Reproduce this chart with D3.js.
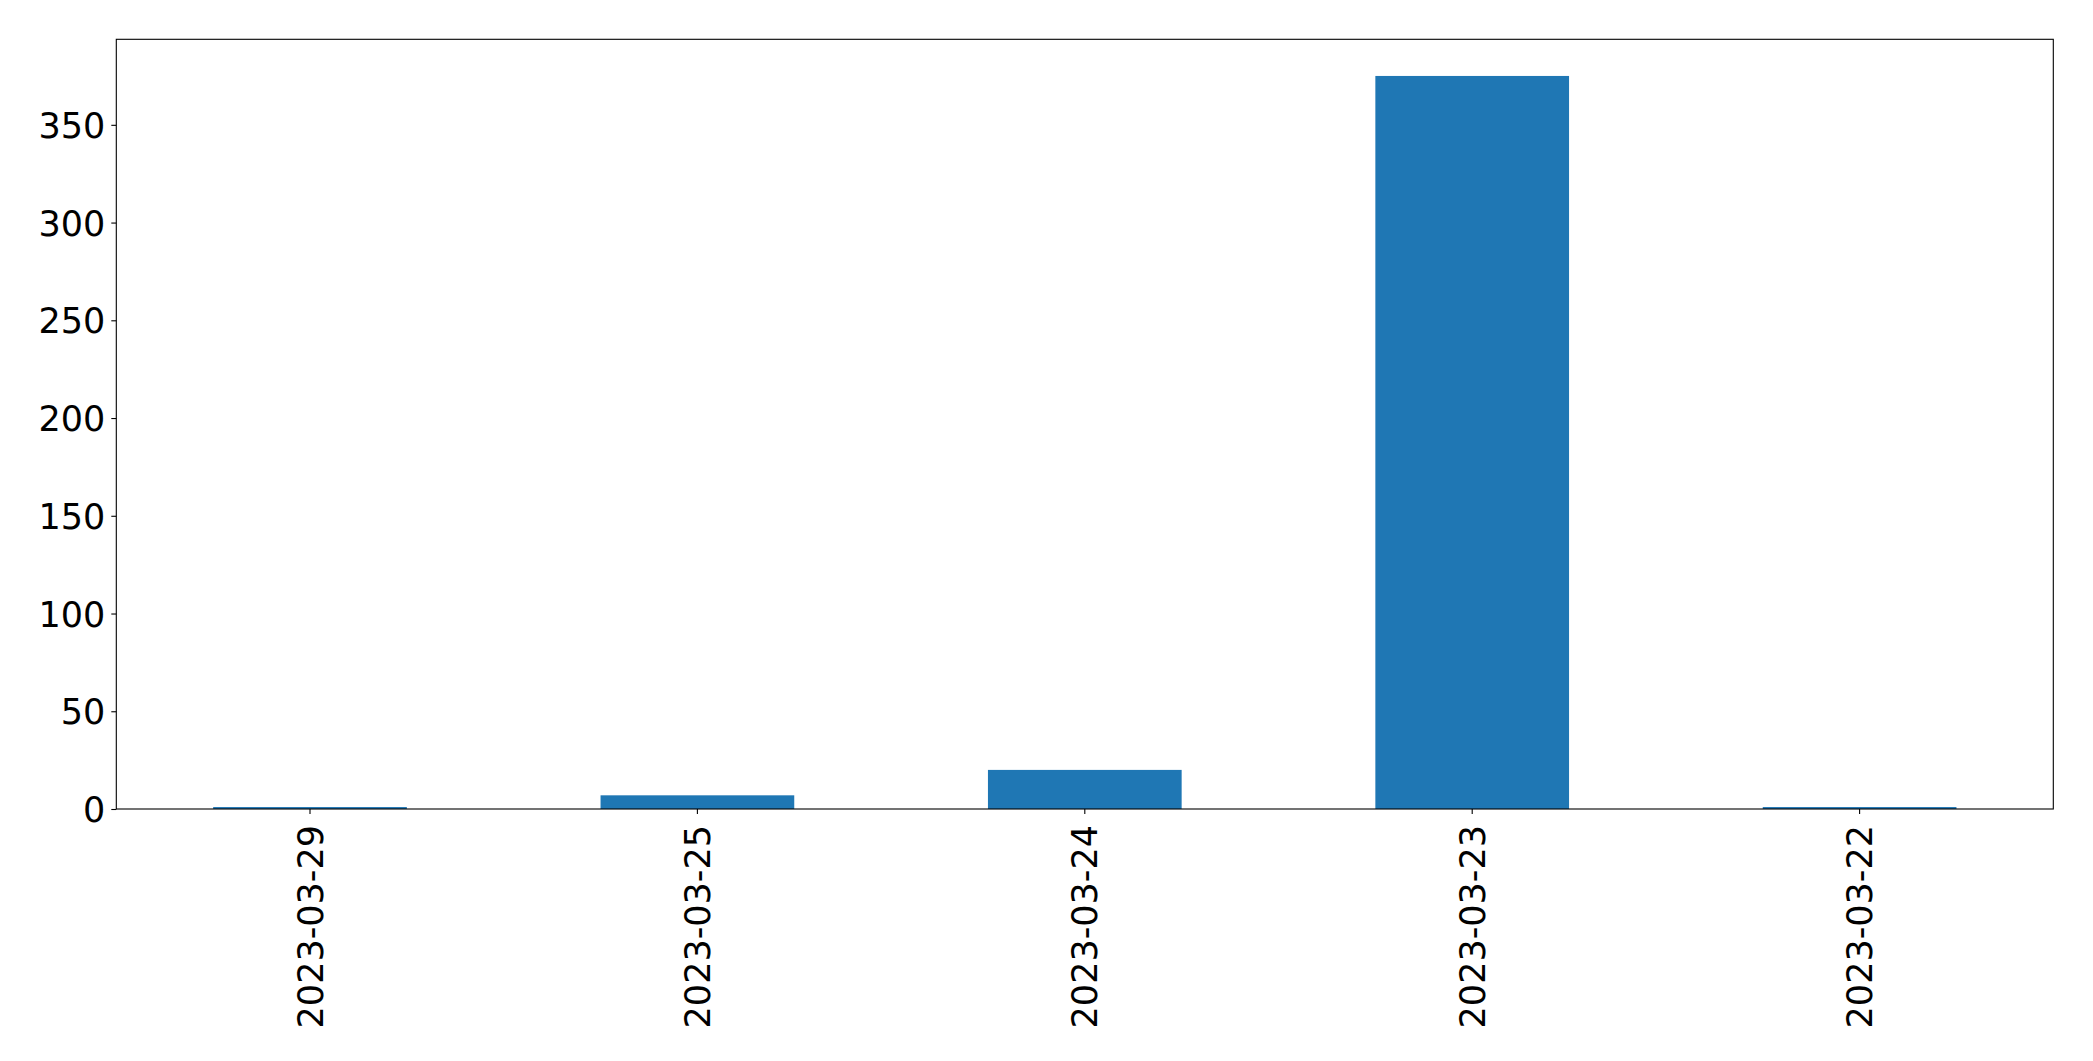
<!DOCTYPE html>
<html>
<head>
<meta charset="utf-8">
<script src="https://cdn.jsdelivr.net/npm/d3@7"></script>
<style>
  html, body { margin: 0; padding: 0; background: #fff; }
  svg { display: block; }
</style>
</head>
<body>
<div id="chart"></div>
<script>
const categories = ["2023-03-29", "2023-03-25", "2023-03-24", "2023-03-23", "2023-03-22"];
const values = [1, 7, 20, 375, 1];
const yTicks = [0, 50, 100, 150, 200, 250, 300, 350];

const W = 2093, H = 1061;
const margin = { left: 116.3, right: W - 2053.3, top: 39.3, bottom: H - 809 };
const iw = W - margin.left - margin.right;
const ih = H - margin.top - margin.bottom;
const fontSize = 35;
const font = "'DejaVu Sans', sans-serif";

const svg = d3.select("#chart").append("svg")
  .attr("width", W).attr("height", H);
const g = svg.append("g").attr("transform", `translate(${margin.left},${margin.top})`);

const x = d3.scaleBand().domain(categories).range([0, iw]).paddingInner(0.5).paddingOuter(0.25);
const y = d3.scaleLinear().domain([0, d3.max(values) * 1.05]).range([ih, 0]);

g.selectAll("rect.bar").data(categories).enter().append("rect")
  .attr("class", "bar")
  .attr("x", d => x(d))
  .attr("width", x.bandwidth())
  .attr("y", (d, i) => y(values[i]))
  .attr("height", (d, i) => ih - y(values[i]))
  .attr("fill", "#1f77b4");

// y axis
const yAxis = g.append("g").call(d3.axisLeft(y).tickValues(yTicks).tickSize(5).tickPadding(6).tickFormat(d3.format("d")));
yAxis.select(".domain").remove();
yAxis.selectAll(".tick line").attr("stroke", "#000").attr("stroke-width", 1.1);
yAxis.selectAll(".tick text")
  .attr("font-family", font).attr("font-size", fontSize).attr("fill", "#000")
  .attr("dy", "0.36em");

// x axis
const xAxis = g.append("g").attr("transform", `translate(0,${ih})`)
  .call(d3.axisBottom(x).tickSize(5).tickPadding(8));
xAxis.select(".domain").remove();
xAxis.selectAll(".tick line").attr("stroke", "#000").attr("stroke-width", 1.1);
xAxis.selectAll(".tick text")
  .attr("font-family", font).attr("font-size", fontSize).attr("fill", "#000")
  .attr("transform", "rotate(-90)")
  .attr("text-anchor", "end")
  .attr("x", -16)
  .attr("y", 0)
  .attr("dy", "0.36em");

// frame
g.append("rect").attr("x", 0).attr("y", 0).attr("width", iw).attr("height", ih)
  .attr("fill", "none").attr("stroke", "#000").attr("stroke-width", 1.1);
</script>
</body>
</html>
